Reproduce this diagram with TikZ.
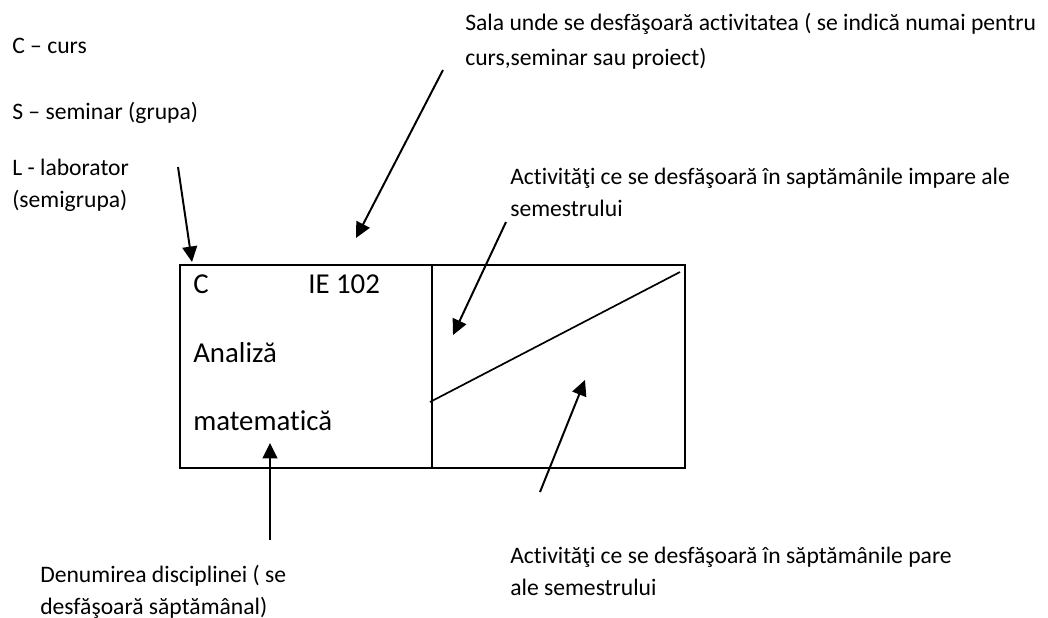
\documentclass[tikz,border=0pt]{standalone}
\usepackage{fontspec}
\setmainfont{Carlito}[Ligatures=NoCommon]
\usetikzlibrary{arrows.meta}

\begin{document}
\begin{tikzpicture}[x=0.025cm,y=-0.025cm,
  note/.style={anchor=base west,inner sep=0pt,align=left,
    font=\fontsize{16.8}{22.75}\selectfont},
  cell/.style={anchor=base west,inner sep=0pt,font=\fontsize{20.5}{24}\selectfont},
  pointer/.style={line width=1.4pt,-{Triangle[length=11pt,width=10.5pt]}}]
  \useasboundingbox (0,0) rectangle (1048,618);
  % the timetable cell
  \coordinate (tl) at (180,265);
  \coordinate (br) at (685,468);
  \coordinate (mt) at (432,265);
  \coordinate (mb) at (432,468);
  \draw[line width=1.4pt] (tl) rectangle (br);
  \draw[line width=1.4pt] (mt) -- (mb);
  \coordinate (dl) at (430,402);
  \coordinate (dr) at (680,272);
  \draw[line width=1.2pt] (dl) -- (dr);
  \node[cell] (kind) at (193,293) {C};
  \node[cell] (room) at (308,293) {IE 102};
  \node[cell] (name1) at (193,362) {Analiză};
  \node[cell] (name2) at (193,430) {matematică};
  % legend on the left (base = last line)
  \node[note] (curs) at (12,54) {C – curs};
  \node[note] (sem) at (12,119) {S – seminar (grupa)};
  \node[note] (lab) at (12,207) {L - laborator\\(semigrupa)};
  % explanations
  \node[note,font=\fontsize{16.8}{24.2}\selectfont] (sala) at (465,65)
    {Sala unde se desfăşoară activitatea ( se indică numai pentru\\curs,seminar sau proiect)};
  \node[note] (impare) at (510,216)
    {Activităţi ce se desfăşoară în saptămânile impare ale\\semestrului};
  \node[note] (pare) at (510,595)
    {Activităţi ce se desfăşoară în săptămânile pare\\ale semestrului};
  \node[note] (denum) at (40,614)
    {Denumirea disciplinei ( se\\desfăşoară săptămânal)};
  % arrows
  \coordinate (labA) at (178,167);
  \coordinate (labB) at (192,262);
  \coordinate (salaA) at (443,70);
  \coordinate (salaB) at (356,238);
  \coordinate (impA) at (506,222);
  \coordinate (impB) at (453,335);
  \coordinate (parA) at (540,492);
  \coordinate (parB) at (585,380);
  \coordinate (denA) at (270,540);
  \coordinate (denB) at (270,443);
  \draw[pointer] (labA) -- (labB);
  \draw[pointer] (salaA) -- (salaB);
  \draw[pointer] (impA) -- (impB);
  \draw[pointer] (parA) -- (parB);
  \draw[pointer] (denA) -- (denB);
\end{tikzpicture}
\end{document}
